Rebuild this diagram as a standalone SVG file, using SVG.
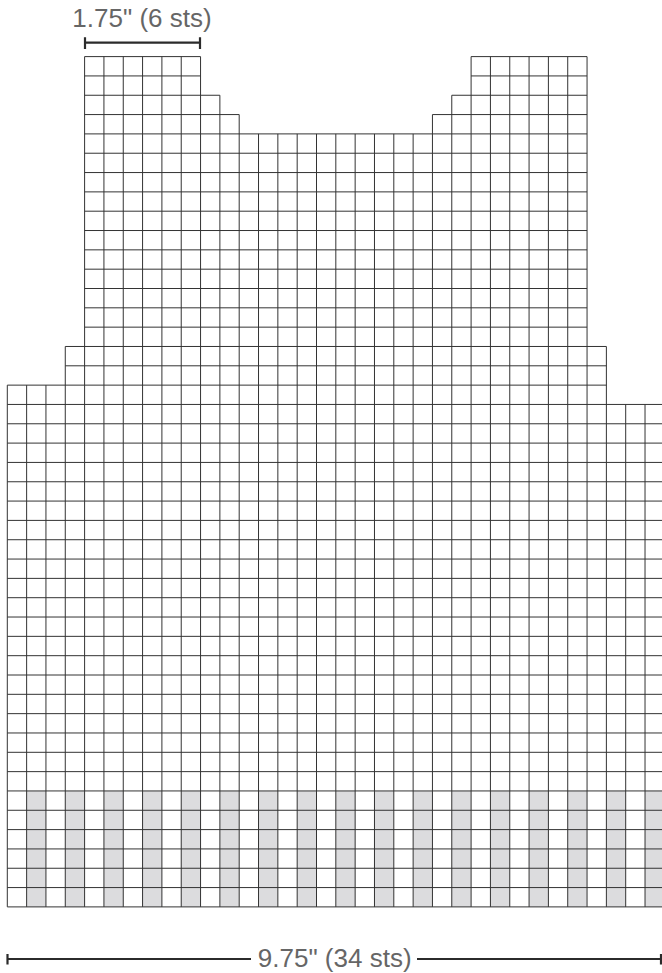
<svg xmlns="http://www.w3.org/2000/svg" width="662" height="973" viewBox="0 0 662 973">
<style>
.grid{fill:none;stroke:#333;stroke-width:1;}
.shade{fill:#dcdcde;stroke:none;}
.dim{fill:none;stroke:#2b2b2b;stroke-width:2.2;}
.lbl{font-family:"Liberation Sans",Arial,sans-serif;font-size:26px;fill:#666;}
</style>
<rect width="662" height="973" fill="#fff"/>
<g id="chart" transform="translate(7.3,56.6) scale(19.325)">
<g id="shading">
<path class="shade" d="M1 38h1v6h-1zM3 38h1v6h-1zM5 38h1v6h-1zM7 38h1v6h-1zM9 38h1v6h-1zM11 38h1v6h-1zM13 38h1v6h-1zM15 38h1v6h-1zM17 38h1v6h-1zM19 38h1v6h-1zM21 38h1v6h-1zM23 38h1v6h-1zM25 38h1v6h-1zM27 38h1v6h-1zM29 38h1v6h-1zM31 38h1v6h-1zM33 38h1v6h-1z"/>
</g>
<g id="grid-lines">
<path class="grid" vector-effect="non-scaling-stroke" d="M4 0H10M24 0H30M4 1H10M24 1H30M4 2H11M23 2H30M4 3H12M22 3H30M4 4H30M4 5H30M4 6H30M4 7H30M4 8H30M4 9H30M4 10H30M4 11H30M4 12H30M4 13H30M4 14H30M3 15H31M3 16H31M0 17H31M0 18H34M0 19H34M0 20H34M0 21H34M0 22H34M0 23H34M0 24H34M0 25H34M0 26H34M0 27H34M0 28H34M0 29H34M0 30H34M0 31H34M0 32H34M0 33H34M0 34H34M0 35H34M0 36H34M0 37H34M0 38H34M0 39H34M0 40H34M0 41H34M0 42H34M0 43H34M0 44H34"/>
<path class="grid" vector-effect="non-scaling-stroke" d="M0 17V44M1 17V44M2 17V44M3 15V44M4 0V44M5 0V44M6 0V44M7 0V44M8 0V44M9 0V44M10 0V44M11 2V44M12 3V44M13 4V44M14 4V44M15 4V44M16 4V44M17 4V44M18 4V44M19 4V44M20 4V44M21 4V44M22 3V44M23 2V44M24 0V44M25 0V44M26 0V44M27 0V44M28 0V44M29 0V44M30 0V44M31 15V44M32 18V44M33 18V44M34 18V44"/>
</g>
</g>
<g id="dimension-top">
<path class="dim" d="M85 42.7H200M85 37.3V49M200 37.3V49"/>
<text class="lbl" x="142" y="27.3" text-anchor="middle">1.75" (6 sts)</text>
</g>
<g id="dimension-bottom">
<path class="dim" d="M7.5 959H251M417 959H661M7.5 954V964.5M661 954V964.5"/>
<text class="lbl" x="334.7" y="966.7" text-anchor="middle">9.75" (34 sts)</text>
</g>
</svg>
